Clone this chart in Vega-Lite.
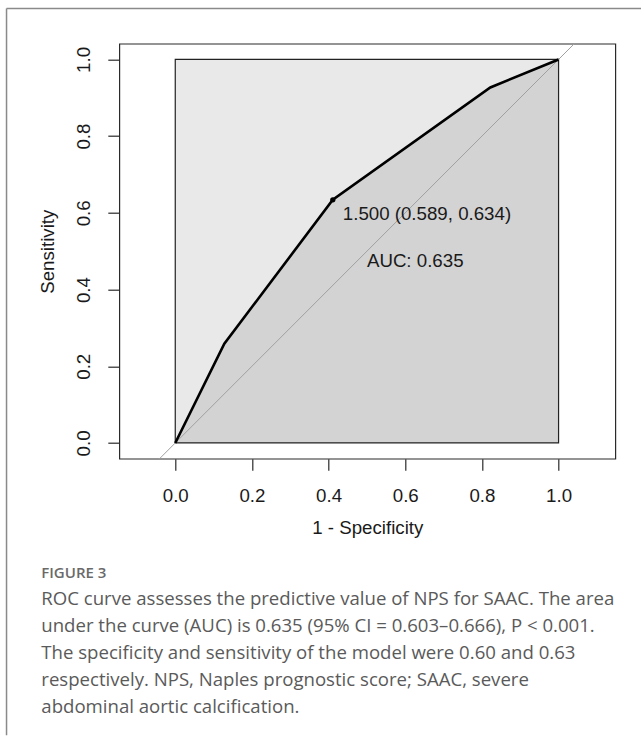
{
  "$schema": "https://vega.github.io/schema/vega-lite/v6.json",
  "width": 496,
  "height": 415,
  "autosize": "none",
  "padding": {"left": 119.3, "top": 43.7, "right": 25.7, "bottom": 277.3},
  "background": "white",
  "config": {
    "view": {"stroke": "#2a2a2a", "strokeWidth": 1.2},
    "axis": {
      "domain": false, "grid": false,
      "tickColor": "#2a2a2a", "tickSize": 11.5, "tickWidth": 1.2,
      "labelFont": "Liberation Sans", "labelFontSize": 18.7, "labelColor": "#1a1a1a",
      "labelFlush": false, "labelOverlap": false,
      "titleFont": "Liberation Sans", "titleFontSize": 18.7, "titleFontWeight": "normal", "titleColor": "#1a1a1a"
    }
  },
  "title": {
    "text": "FIGURE 3",
    "subtitle": [
      "ROC curve assesses the predictive value of NPS for SAAC. The area",
      "under the curve (AUC) is 0.635 (95% CI = 0.603–0.666), P < 0.001.",
      "The specificity and sensitivity of the model were 0.60 and 0.63",
      "respectively. NPS, Naples prognostic score; SAAC, severe",
      "abdominal aortic calcification."
    ],
    "orient": "bottom", "anchor": "start", "frame": "group",
    "offset": -170, "dx": -78, "baseline": "top",
    "font": "Open Sans", "fontSize": 15, "fontWeight": 600, "color": "#6a6a6a",
    "subtitleFont": "Open Sans", "subtitleFontSize": 18.6, "subtitleColor": "#5a5a5a",
    "subtitleLineHeight": 27, "subtitlePadding": 9
  },
  "datasets": {
    "roc": [
      {"fpr": 0, "tpr": 0},
      {"fpr": 0.128, "tpr": 0.259},
      {"fpr": 0.411, "tpr": 0.634},
      {"fpr": 0.822, "tpr": 0.927},
      {"fpr": 1, "tpr": 1}
    ],
    "maxauc": [{"fpr": 0, "fpr2": 1, "tpr": 0, "tpr2": 1}],
    "diag": [{"fpr": -0.3, "tpr": -0.3}, {"fpr": 1.3, "tpr": 1.3}],
    "thr": [{"fpr": 0.411, "tpr": 0.634, "label": "1.500 (0.589, 0.634)"}],
    "auc": [{"fpr": 0.5, "tpr": 0.5, "label": "AUC: 0.635"}],
    "frame": [
      {"fpr": -0.4402, "tpr": 1.1328, "fpr2": 1.22, "tpr2": 1.1328},
      {"fpr": -0.4402, "tpr": 1.1328, "fpr2": -0.4402, "tpr2": -0.7622}
    ]
  },
  "encoding": {
    "x": {
      "field": "fpr", "type": "quantitative", "title": "1 - Specificity",
      "scale": {"domain": [-0.146, 1.148], "nice": false, "zero": false},
      "axis": {
        "values": [0, 0.2, 0.4, 0.6, 0.8, 1], "format": ".1f",
        "labelPadding": 31.2, "labelBaseline": "alphabetic",
        "titleBaseline": "alphabetic", "titleY": 74.5
      }
    },
    "y": {
      "field": "tpr", "type": "quantitative", "title": "Sensitivity",
      "scale": {"domain": [-0.041, 1.041], "nice": false, "zero": false},
      "axis": {
        "values": [0, 0.2, 0.4, 0.6, 0.8, 1], "format": ".1f",
        "labelAngle": -90, "labelAlign": "center", "labelBaseline": "alphabetic", "labelPadding": 18.5,
        "titleAngle": -90, "titleAlign": "center", "titleBaseline": "alphabetic", "titleX": -66, "titleY": 207.5
      }
    }
  },
  "layer": [
    {
      "data": {"name": "maxauc"},
      "mark": {"type": "rect", "fill": "#e9e9e9", "strokeWidth": 0},
      "encoding": {"x2": {"field": "fpr2"}, "y2": {"field": "tpr2"}}
    },
    {
      "data": {"name": "roc"},
      "mark": {"type": "area", "color": "#d3d3d3", "interpolate": "linear"},
      "encoding": {"y2": {"datum": 0}}
    },
    {
      "data": {"name": "maxauc"},
      "mark": {"type": "rect", "filled": false, "stroke": "#222222", "strokeWidth": 1.2},
      "encoding": {"x2": {"field": "fpr2"}, "y2": {"field": "tpr2"}}
    },
    {
      "data": {"name": "diag"},
      "mark": {"type": "line", "color": "#a0a0a0", "strokeWidth": 1, "clip": true},
      "encoding": {}
    },
    {
      "data": {"name": "roc"},
      "mark": {"type": "line", "color": "#000000", "strokeWidth": 2.6},
      "encoding": {}
    },
    {
      "data": {"name": "thr"},
      "mark": {"type": "point", "filled": true, "color": "#000000", "size": 28, "opacity": 1},
      "encoding": {}
    },
    {
      "data": {"name": "thr"},
      "mark": {"type": "text", "align": "left", "baseline": "alphabetic", "dx": 10, "dy": 20,
               "font": "Liberation Sans", "fontSize": 18.7, "color": "#1a1a1a"},
      "encoding": {"text": {"field": "label"}}
    },
    {
      "data": {"name": "auc"},
      "mark": {"type": "text", "align": "left", "baseline": "alphabetic", "dx": 0, "dy": 16,
               "font": "Liberation Sans", "fontSize": 18.7, "color": "#1a1a1a"},
      "encoding": {"text": {"field": "label"}}
    },
    {
      "data": {"name": "frame"},
      "mark": {"type": "rule", "color": "#8a8a8a", "strokeWidth": 1.5},
      "encoding": {"x2": {"field": "fpr2"}, "y2": {"field": "tpr2"}}
    }
  ]
}
